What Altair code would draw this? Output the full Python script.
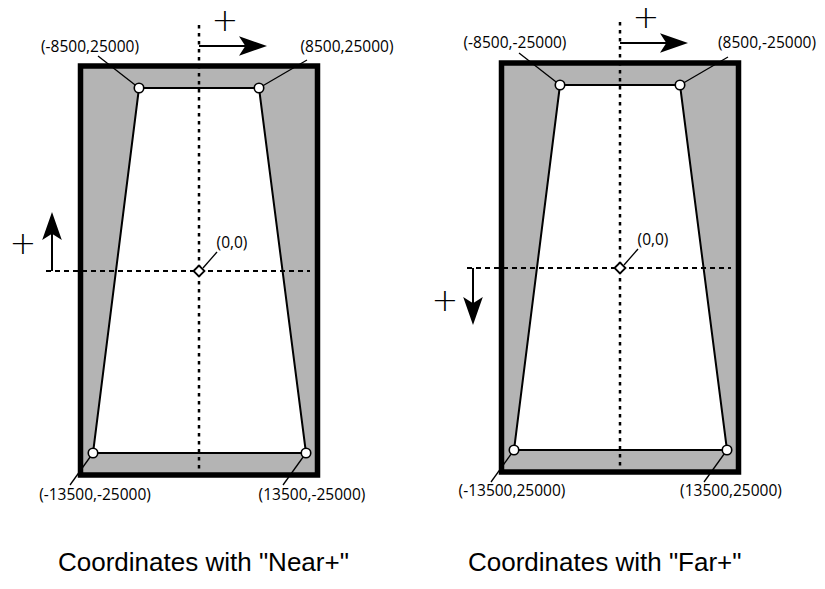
import altair as alt
import pandas as pd

# ---- data (diagram units = pixels relative to each panel's origin) ----
PANELS = ["Near+", "Far+"]
PANEL_CX = [199, 620]
PANEL_CY = [271, 268]

FRAME_X = [-118.5, 118.5]
FRAME_Y = [-205, 204]

TRAP_Y = [-183, 182]
TRAP_XL = [-60, -106]
TRAP_XR = [60, 107]

CORNER_X = [-60, 60, -106, 107]
CORNER_Y = [-183, -183, 182, 182]
CORNER_LABELS = [
    ["(-8500,25000)", "(8500,25000)", "(-13500,-25000)", "(13500,-25000)"],
    ["(-8500,-25000)", "(8500,-25000)", "(-13500,25000)", "(13500,25000)"],
]
LABEL_DX = [[-109, 148, -104, 113], [-105, 147, -108, 111]]
LABEL_DY = [[-224, -224, 224, 224], [-225, -225, 223, 223]]
LEADER_END_X = [-101, 108, -129, 84]
LEADER_END_Y = [-215, -211, 214, 214]

ORIGIN_LABEL = "(0,0)"
ORIGIN_LABEL_D = [33, -28]
ORIGIN_LEADER = [[4, -3], [18, -19]]

V_AXIS_Y = [-246, 202]
H_AXIS_X = [-153, 111]

X_ARROW_Y = -225
X_ARROW_SHAFT = [0, 50]
X_ARROW_HEAD = 54
Y_ARROW_X = -147
Y_ARROW_SHAFT = [[0, -44], [0, 44]]
Y_ARROW_HEAD = [-45, 43]
Y_ARROW_ANGLE = [270, 90]

PLUS_TOP = [26, -250]
PLUS_SIDE = [[-176, -27], [-175, 33]]

TITLES = ['Coordinates with "Near+"', 'Coordinates with "Far+"']
TITLE_X = [58, 468]
TITLE_Y = 571

GRAY = "#b4b4b4"
ARROW_PATH = "M1,0L-1,-0.7L-0.55,0L-1,0.7Z"

# ---- tables ----
frames, traps, corners, labels, leaders, vlines, hlines = [], [], [], [], [], [], []
shafts, heads, pluses, origins, olabels, titles = [], [], [], [], [], []
for i, p in enumerate(PANELS):
    cx, cy = PANEL_CX[i], PANEL_CY[i]
    frames.append(dict(panel=p, x=cx + FRAME_X[0], x2=cx + FRAME_X[1],
                       y=cy + FRAME_Y[0], y2=cy + FRAME_Y[1]))
    for k in range(2):
        traps.append(dict(panel=p, y=cy + TRAP_Y[k], x=cx + TRAP_XL[k], x2=cx + TRAP_XR[k]))
    for k in range(4):
        corners.append(dict(panel=p, x=cx + CORNER_X[k], y=cy + CORNER_Y[k]))
        labels.append(dict(panel=p, x=cx + LABEL_DX[i][k], y=cy + LABEL_DY[i][k],
                           text=CORNER_LABELS[i][k]))
        leaders.append(dict(panel=p, x=cx + CORNER_X[k], y=cy + CORNER_Y[k],
                            x2=cx + LEADER_END_X[k], y2=cy + LEADER_END_Y[k]))
    leaders.append(dict(panel=p, x=cx + ORIGIN_LEADER[0][0], y=cy + ORIGIN_LEADER[0][1],
                        x2=cx + ORIGIN_LEADER[1][0], y2=cy + ORIGIN_LEADER[1][1]))
    origins.append(dict(panel=p, x=cx, y=cy))
    olabels.append(dict(panel=p, x=cx + ORIGIN_LABEL_D[0], y=cy + ORIGIN_LABEL_D[1],
                        text=ORIGIN_LABEL))
    vlines.append(dict(panel=p, x=cx, y=cy + V_AXIS_Y[0], y2=cy + V_AXIS_Y[1]))
    hlines.append(dict(panel=p, x=cx + H_AXIS_X[0], x2=cx + H_AXIS_X[1], y=cy))
    shafts.append(dict(panel=p, x=cx + X_ARROW_SHAFT[0], x2=cx + X_ARROW_SHAFT[1],
                       y=cy + X_ARROW_Y, y2=cy + X_ARROW_Y))
    shafts.append(dict(panel=p, x=cx + Y_ARROW_X, x2=cx + Y_ARROW_X,
                       y=cy + Y_ARROW_SHAFT[i][0], y2=cy + Y_ARROW_SHAFT[i][1]))
    heads.append(dict(panel=p, x=cx + X_ARROW_HEAD, y=cy + X_ARROW_Y, angle=0))
    heads.append(dict(panel=p, x=cx + Y_ARROW_X, y=cy + Y_ARROW_HEAD[i], angle=Y_ARROW_ANGLE[i]))
    pluses.append(dict(panel=p, x=cx + PLUS_TOP[0], y=cy + PLUS_TOP[1], text="+"))
    pluses.append(dict(panel=p, x=cx + PLUS_SIDE[i][0], y=cy + PLUS_SIDE[i][1], text="+"))
    titles.append(dict(panel=p, x=TITLE_X[i], y=TITLE_Y, text=TITLES[i]))

XS = alt.Scale(domain=[8, 817], nice=False, zero=False)
YS = alt.Scale(domain=[8, 576], nice=False, zero=False, reverse=True)


def X(f="x"):
    return alt.X(f"{f}:Q", scale=XS, axis=None)


def Y(f="y"):
    return alt.Y(f"{f}:Q", scale=YS, axis=None)


frame = alt.Chart(pd.DataFrame(frames)).mark_rect(
    fill=GRAY, stroke="black", strokeWidth=5.5
).encode(x=X(), x2="x2:Q", y=Y(), y2="y2:Q")

trap = alt.Chart(pd.DataFrame(traps)).mark_area(
    orient="horizontal", fill="white", stroke="black", strokeWidth=2, opacity=1
).encode(y=Y(), x=X(), x2="x2:Q", detail="panel:N")

vline = alt.Chart(pd.DataFrame(vlines)).mark_rule(
    color="black", strokeWidth=2.5, strokeDash=[3.5, 4.5]
).encode(x=X(), y=Y(), y2="y2:Q")

hline = alt.Chart(pd.DataFrame(hlines)).mark_rule(
    color="black", strokeWidth=2, strokeDash=[5, 4]
).encode(x=X(), x2="x2:Q", y=Y())

leader = alt.Chart(pd.DataFrame(leaders)).mark_rule(
    color="black", strokeWidth=1.3
).encode(x=X(), x2="x2:Q", y=Y(), y2="y2:Q")

shaft = alt.Chart(pd.DataFrame(shafts)).mark_rule(
    color="black", strokeWidth=2
).encode(x=X(), x2="x2:Q", y=Y(), y2="y2:Q")

head = alt.Chart(pd.DataFrame(heads)).mark_point(
    shape=ARROW_PATH, filled=True, fill="black", size=784, opacity=1
).encode(x=X(), y=Y(), angle=alt.Angle("angle:Q", scale=None))

corner = alt.Chart(pd.DataFrame(corners)).mark_point(
    shape="circle", filled=True, fill="white", stroke="black", strokeWidth=1.6,
    size=90, opacity=1
).encode(x=X(), y=Y())

origin = alt.Chart(pd.DataFrame(origins)).mark_point(
    shape="diamond", filled=True, fill="white", stroke="black", strokeWidth=1.8,
    size=120, opacity=1
).encode(x=X(), y=Y())

label = alt.Chart(pd.DataFrame(labels + olabels)).mark_text(
    font="Open Sans", fontSize=15.5, color="black", align="center", baseline="middle"
).encode(x=X(), y=Y(), text="text:N")

plus = alt.Chart(pd.DataFrame(pluses)).mark_text(
    font="DejaVu Sans", fontWeight=200, fontSize=32, color="black",
    align="center", baseline="middle"
).encode(x=X(), y=Y(), text="text:N")

title = alt.Chart(pd.DataFrame(titles)).mark_text(
    font="Liberation Sans", fontSize=26, color="black", align="left", baseline="alphabetic"
).encode(x=X(), y=Y(), text="text:N")

chart = alt.layer(
    frame, trap, vline, hline, leader, shaft, head, corner, origin, label, plus, title
).properties(
    width=809, height=568, padding=0, autosize=alt.AutoSizeParams(type="none")
).configure_view(strokeWidth=0, stroke="transparent")

chart.save("out.html", embed_options={"renderer": "svg", "actions": False})
